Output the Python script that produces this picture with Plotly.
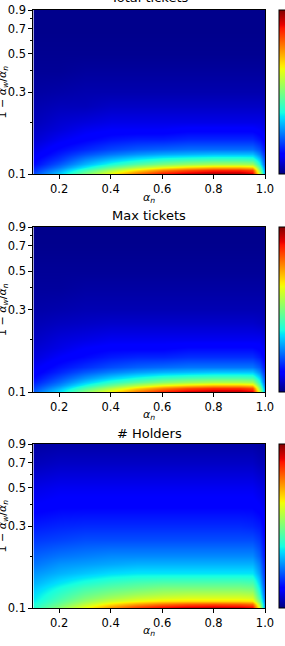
import numpy as np
import plotly.graph_objects as go

# ---------------- data ----------------
alpha_n = [0.1, 0.2, 0.3, 0.4, 0.5, 0.6, 0.7, 0.8, 0.9, 0.95, 0.98, 1.0]
ratio = [0.1, 0.105, 0.11, 0.115, 0.12, 0.13, 0.14, 0.16, 0.18, 0.2, 0.25, 0.3, 0.4, 0.5, 0.7, 0.9]

total_tickets = [
    [0.20, 0.33, 0.50, 0.65, 0.80, 0.90, 0.95, 0.97, 0.97, 0.93, 0.60, 0.25],
    [0.17, 0.28, 0.42, 0.55, 0.67, 0.77, 0.83, 0.87, 0.87, 0.84, 0.52, 0.22],
    [0.15, 0.24, 0.35, 0.46, 0.55, 0.62, 0.67, 0.70, 0.70, 0.68, 0.45, 0.20],
    [0.13, 0.21, 0.30, 0.38, 0.45, 0.50, 0.53, 0.55, 0.55, 0.54, 0.38, 0.18],
    [0.12, 0.18, 0.26, 0.32, 0.37, 0.41, 0.43, 0.44, 0.44, 0.43, 0.33, 0.17],
    [0.10, 0.15, 0.20, 0.24, 0.27, 0.29, 0.30, 0.31, 0.31, 0.31, 0.25, 0.15],
    [0.09, 0.13, 0.16, 0.19, 0.21, 0.22, 0.23, 0.23, 0.23, 0.23, 0.20, 0.13],
    [0.07, 0.10, 0.12, 0.14, 0.15, 0.15, 0.16, 0.16, 0.16, 0.16, 0.14, 0.11],
    [0.06, 0.08, 0.10, 0.11, 0.11, 0.11, 0.12, 0.12, 0.12, 0.12, 0.11, 0.09],
    [0.05, 0.07, 0.08, 0.09, 0.09, 0.09, 0.09, 0.09, 0.09, 0.09, 0.09, 0.08],
    [0.04, 0.05, 0.05, 0.06, 0.06, 0.06, 0.06, 0.06, 0.06, 0.06, 0.06, 0.05],
    [0.03, 0.035, 0.04, 0.04, 0.04, 0.04, 0.04, 0.04, 0.04, 0.04, 0.04, 0.04],
    [0.02, 0.02, 0.025, 0.025, 0.025, 0.025, 0.025, 0.025, 0.025, 0.025, 0.025, 0.02],
    [0.015, 0.015, 0.015, 0.015, 0.015, 0.015, 0.015, 0.015, 0.015, 0.015, 0.015, 0.015],
    [0.01, 0.01, 0.01, 0.01, 0.01, 0.01, 0.01, 0.01, 0.01, 0.01, 0.01, 0.01],
    [0.01, 0.01, 0.01, 0.01, 0.01, 0.01, 0.01, 0.01, 0.01, 0.01, 0.01, 0.01],
]

max_tickets = [
    [0.22, 0.35, 0.51, 0.66, 0.80, 0.89, 0.94, 0.96, 0.96, 0.93, 0.60, 0.25],
    [0.19, 0.30, 0.44, 0.56, 0.68, 0.77, 0.83, 0.86, 0.86, 0.83, 0.52, 0.22],
    [0.17, 0.26, 0.37, 0.47, 0.56, 0.63, 0.67, 0.70, 0.70, 0.68, 0.45, 0.20],
    [0.15, 0.23, 0.32, 0.40, 0.46, 0.51, 0.54, 0.56, 0.56, 0.55, 0.39, 0.18],
    [0.13, 0.20, 0.27, 0.33, 0.38, 0.42, 0.44, 0.45, 0.45, 0.44, 0.34, 0.17],
    [0.11, 0.16, 0.21, 0.25, 0.28, 0.30, 0.31, 0.32, 0.32, 0.32, 0.26, 0.15],
    [0.10, 0.14, 0.17, 0.20, 0.22, 0.23, 0.24, 0.24, 0.24, 0.24, 0.21, 0.13],
    [0.08, 0.11, 0.13, 0.15, 0.16, 0.16, 0.17, 0.17, 0.17, 0.17, 0.15, 0.11],
    [0.07, 0.09, 0.11, 0.12, 0.12, 0.12, 0.13, 0.13, 0.13, 0.13, 0.12, 0.09],
    [0.06, 0.08, 0.09, 0.10, 0.10, 0.10, 0.10, 0.10, 0.10, 0.10, 0.10, 0.08],
    [0.045, 0.055, 0.06, 0.065, 0.065, 0.065, 0.065, 0.065, 0.065, 0.065, 0.06, 0.05],
    [0.035, 0.04, 0.045, 0.045, 0.045, 0.045, 0.045, 0.045, 0.045, 0.045, 0.045, 0.04],
    [0.025, 0.025, 0.03, 0.03, 0.03, 0.03, 0.03, 0.03, 0.03, 0.03, 0.03, 0.025],
    [0.02, 0.02, 0.02, 0.02, 0.02, 0.02, 0.02, 0.02, 0.02, 0.02, 0.02, 0.02],
    [0.012, 0.012, 0.012, 0.012, 0.012, 0.012, 0.012, 0.012, 0.012, 0.012, 0.012, 0.012],
    [0.01, 0.01, 0.01, 0.01, 0.01, 0.01, 0.01, 0.01, 0.01, 0.01, 0.01, 0.01],
]

holders = [
    [0.40, 0.52, 0.64, 0.76, 0.86, 0.92, 0.95, 0.96, 0.95, 0.92, 0.62, 0.22],
    [0.38, 0.48, 0.58, 0.67, 0.74, 0.79, 0.82, 0.83, 0.82, 0.80, 0.55, 0.21],
    [0.36, 0.45, 0.53, 0.60, 0.64, 0.67, 0.68, 0.68, 0.68, 0.67, 0.48, 0.20],
    [0.35, 0.43, 0.50, 0.55, 0.59, 0.61, 0.62, 0.62, 0.62, 0.61, 0.44, 0.19],
    [0.34, 0.41, 0.47, 0.51, 0.54, 0.56, 0.57, 0.57, 0.57, 0.56, 0.40, 0.18],
    [0.32, 0.38, 0.43, 0.46, 0.48, 0.50, 0.50, 0.50, 0.50, 0.49, 0.36, 0.17],
    [0.30, 0.35, 0.39, 0.42, 0.44, 0.45, 0.45, 0.45, 0.45, 0.44, 0.33, 0.16],
    [0.27, 0.30, 0.32, 0.34, 0.35, 0.35, 0.35, 0.35, 0.35, 0.35, 0.28, 0.15],
    [0.24, 0.27, 0.28, 0.29, 0.30, 0.30, 0.30, 0.30, 0.30, 0.30, 0.25, 0.14],
    [0.22, 0.24, 0.25, 0.26, 0.26, 0.26, 0.26, 0.26, 0.26, 0.26, 0.22, 0.13],
    [0.18, 0.19, 0.20, 0.20, 0.20, 0.20, 0.20, 0.20, 0.20, 0.20, 0.18, 0.12],
    [0.15, 0.16, 0.165, 0.165, 0.165, 0.165, 0.165, 0.165, 0.165, 0.16, 0.15, 0.11],
    [0.11, 0.12, 0.12, 0.12, 0.12, 0.12, 0.12, 0.12, 0.12, 0.12, 0.11, 0.09],
    [0.09, 0.10, 0.10, 0.10, 0.10, 0.10, 0.10, 0.10, 0.10, 0.10, 0.09, 0.08],
    [0.05, 0.06, 0.06, 0.06, 0.06, 0.06, 0.06, 0.06, 0.06, 0.06, 0.05, 0.05],
    [0.03, 0.035, 0.035, 0.035, 0.035, 0.035, 0.035, 0.035, 0.035, 0.035, 0.03, 0.03],
]

titles = ["Total tickets", "Max tickets", "# Holders"]
y_ticks = [0.1, 0.3, 0.5, 0.7, 0.9]
y_minor = [0.2, 0.4, 0.6, 0.8]
x_ticks = [0.2, 0.4, 0.6, 0.8, 1.0]

# ---------------- matplotlib-like jet colorscale ----------------
stops = [0, 0.11, 0.125, 0.34, 0.35, 0.375, 0.64, 0.65, 0.66, 0.89, 0.91, 1.0]
rx, ry = [0, 0.35, 0.66, 0.89, 1], [0, 0, 1, 1, 0.5]
gx, gy = [0, 0.125, 0.375, 0.64, 0.91, 1], [0, 0, 1, 1, 0, 0]
bx, by = [0, 0.11, 0.34, 0.65, 1], [0.5, 1, 1, 0, 0]
jet = []
for s in stops:
    r = np.interp(s, rx, ry); g = np.interp(s, gx, gy); b = np.interp(s, bx, by)
    jet.append([s, f"rgb({int(round(r*255))},{int(round(g*255))},{int(round(b*255))})"])

# ---------------- layout geometry (pixels) ----------------
W, H = 285, 646
x_left, x_right = 33.4, 265
panels = [(10, 174), (227, 392), (444, 608)]
title_y = [-2, 215, 433]
xlabel_y = [198, 415, 631]
FONT = "DejaVu Sans"

fig = go.Figure()
datas = [total_tickets, max_tickets, holders]
annotations = []
for i, (top, bot) in enumerate(panels):
    n = "" if i == 0 else str(i + 1)
    y0, y1 = 1 - bot / H, 1 - top / H
    fig.add_trace(go.Heatmap(
        x=alpha_n, y=ratio, z=datas[i], zmin=0, zmax=1,
        colorscale=jet, zsmooth="best",
        xaxis="x" + n, yaxis="y" + n,
        colorbar=dict(x=279 / W, xanchor="left", y=(y0 + y1) / 2, yanchor="middle",
                      len=(y1 - y0), lenmode="fraction", thickness=12, thicknessmode="pixels",
                      xpad=0, ypad=0, outlinewidth=1, outlinecolor="black",
                      showticklabels=False, ticks=""),
        hoverinfo="skip",
    ))
    axcommon = dict(showgrid=False, zeroline=False, showline=True, mirror=True,
                    linecolor="black", linewidth=1, ticks="outside", ticklen=4,
                    tickwidth=1, tickcolor="black",
                    tickfont=dict(family=FONT, size=11.5, color="black"), automargin=False)
    fig.update_layout(**{
        "xaxis" + n: dict(domain=[x_left / W, x_right / W], range=[0.1, 1.0],
                          anchor="y" + n, tickvals=x_ticks,
                          ticktext=[f"{v:.1f}" for v in x_ticks], **axcommon),
        "yaxis" + n: dict(domain=[y0, y1], type="log", range=[np.log10(0.1), np.log10(0.9)],
                          anchor="x" + n, tickvals=y_ticks,
                          ticktext=[f"{v:.1f}" for v in y_ticks],
                          minor=dict(tickvals=y_minor, ticks="outside", ticklen=2.5,
                                     tickcolor="black", tickwidth=1, showgrid=False),
                          **axcommon),
    })
    annotations.append(dict(text=titles[i], x=(x_left + x_right) / 2 / W, y=1 - title_y[i] / H,
                            xref="paper", yref="paper", xanchor="center", yanchor="middle",
                            showarrow=False, font=dict(family=FONT, size=13, color="black")))
    annotations.append(dict(text="<i>α</i><sub><i>n</i></sub>", x=(x_left + x_right) / 2 / W,
                            y=1 - xlabel_y[i] / H, xref="paper", yref="paper",
                            xanchor="center", yanchor="middle", showarrow=False,
                            font=dict(family=FONT, size=11, color="black")))
    annotations.append(dict(text="1 − <i>α</i><sub><i>w</i></sub>/<i>α</i><sub><i>n</i></sub>",
                            x=2.5 / W, y=1 - (top + bot) / 2 / H, xref="paper", yref="paper",
                            xanchor="center", yanchor="middle", textangle=-90, showarrow=False,
                            font=dict(family=FONT, size=11, color="black")))

fig.update_layout(width=W, height=H, margin=dict(l=0, r=0, t=0, b=0, autoexpand=False),
                  paper_bgcolor="white", plot_bgcolor="white",
                  annotations=annotations, showlegend=False)

fig.write_html("out.html", config={"displayModeBar": False},
               post_script="document.body.style.margin='0';document.body.style.overflow='hidden';")
